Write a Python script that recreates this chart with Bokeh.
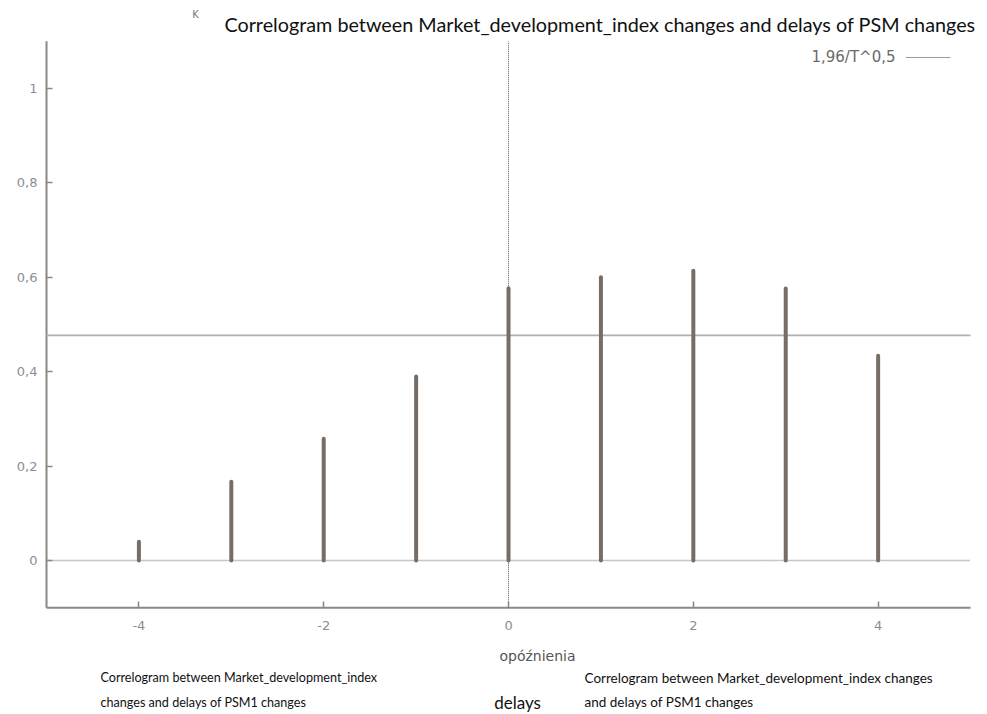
from bokeh.plotting import figure
from bokeh.models import Range1d, FixedTicker, CustomJSTickFormatter, Label
from bokeh.embed import file_html
from bokeh.resources import INLINE

# ---- data ----
lags = [-4, -3, -2, -1, 0, 1, 2, 3, 4]
corr = [0.040, 0.167, 0.258, 0.390, 0.577, 0.600, 0.614, 0.576, 0.434]
crit = 0.477
x_ticks = [-4, -2, 0, 2, 4]
x_tick_labels = ["-4", "-2", "0", "2", "4"]
y_ticks = [0, 0.2, 0.4, 0.6, 0.8, 1.0]
y_tick_labels = ["0", "0,2", "0,4", "0,6", "0,8", "1"]
x_lo, x_hi = -5, 5
y_lo, y_hi = -0.1, 1.1

title_text = "Correlogram between Market_development_index changes and delays of PSM changes"
legend_text = "1,96/T^0,5"
x_label = "opóźnienia"
cap_left = ["Correlogram between Market_development_index", "changes and delays of PSM1 changes"]
cap_mid = "delays"
cap_right = ["Correlogram between Market_development_index changes", "and delays of PSM1 changes"]

AX = "#8d8882"
TICK = "#8e8e8e"
STEM = "#766e65"

W, H = 985, 712
p = figure(width=W, height=H, output_backend="svg", toolbar_location=None,
           x_range=Range1d(-5.498, 5.162), y_range=Range1d(-0.3220, 1.1864),
           min_border=0)
p.outline_line_color = None
p.grid.visible = False
p.background_fill_color = "white"
p.border_fill_color = "white"

for ax in (p.xaxis[0], p.yaxis[0]):
    ax.axis_line_color = None
    ax.major_tick_line_color = AX
    ax.major_tick_line_width = 1.5
    ax.major_tick_in = 6
    ax.major_tick_out = 0
    ax.minor_tick_line_color = None
    ax.major_label_text_color = TICK
    ax.major_label_text_font = "DejaVu Sans"
    ax.major_label_text_font_size = "13px"

p.xaxis.fixed_location = y_lo
p.yaxis.fixed_location = x_lo
p.xaxis.ticker = FixedTicker(ticks=x_ticks)
p.yaxis.ticker = FixedTicker(ticks=y_ticks)
fmt_code = """
let best = 0, d = 1e9;
for (let i = 0; i < tv.length; i++) {
  const e = Math.abs(tv[i] - tick);
  if (e < d) { d = e; best = i; }
}
return tl[best];
"""
p.xaxis.formatter = CustomJSTickFormatter(args=dict(tv=x_ticks, tl=x_tick_labels), code=fmt_code)
p.yaxis.formatter = CustomJSTickFormatter(args=dict(tv=y_ticks, tl=y_tick_labels), code=fmt_code)
p.xaxis.major_label_standoff = 13
p.yaxis.major_label_standoff = 9

# axis lines (frame of the data area)
p.segment(x0=[x_lo, x_lo], y0=[y_lo, y_lo], x1=[x_lo, x_hi], y1=[y_hi, y_lo],
          line_color=AX, line_width=2)

# reference lines
p.segment(x0=[x_lo], y0=[0], x1=[x_hi], y1=[0], line_color="#8f8f8f", line_dash="1 1", line_width=1.5)
p.segment(x0=[0], y0=[y_lo], x1=[0], y1=[y_hi], line_color="#555555", line_dash="1 1", line_width=1)
p.segment(x0=[x_lo], y0=[crit], x1=[x_hi], y1=[crit], line_color="#b3aea8", line_width=1.8)

# stems
p.segment(x0=lags, y0=[0] * len(lags), x1=lags, y1=corr, line_color=STEM,
          line_width=4, line_cap="round")

# legend
p.add_layout(Label(x=4.188, y=1.0657, text=legend_text, text_align="right", text_baseline="middle",
                   text_font="DejaVu Sans", text_font_size="15px", text_color="#6a6a6a"))
p.segment(x0=[4.297], y0=[1.0657], x1=[4.784], y1=[1.0657], line_color="#9a9a9a", line_width=1)

# texts
p.add_layout(Label(x=5.054, y=1.1356, text=title_text, text_align="right", text_baseline="middle",
                   text_font="Lato", text_font_size="19.8px", text_color="#111111"))
p.add_layout(Label(x=-3.387, y=1.1568, text="K", text_align="center", text_baseline="middle",
                   text_font="DejaVu Sans", text_font_size="10px", text_color="#777777"))
p.add_layout(Label(x=0.314, y=-0.2013, text=x_label, text_align="center", text_baseline="middle",
                   text_font="DejaVu Sans", text_font_size="14px", text_color="#555555"))
for i, t in enumerate(cap_left):
    p.add_layout(Label(x=-4.416, y=-0.2479 - 0.0529 * i, text=t, text_align="left", text_baseline="middle",
                       text_font="Lato", text_font_size="12.6px", text_color="#111111"))
for i, t in enumerate(cap_right):
    p.add_layout(Label(x=0.8225, y=-0.2479 - 0.0529 * i, text=t, text_align="left", text_baseline="middle",
                       text_font="Lato", text_font_size="13.5px", text_color="#111111"))
p.add_layout(Label(x=0.0974, y=-0.3008, text=cap_mid, text_align="center", text_baseline="middle",
                   text_font="Lato", text_font_size="17px", text_color="#111111"))

open("out.html", "w").write(file_html(p, INLINE))
